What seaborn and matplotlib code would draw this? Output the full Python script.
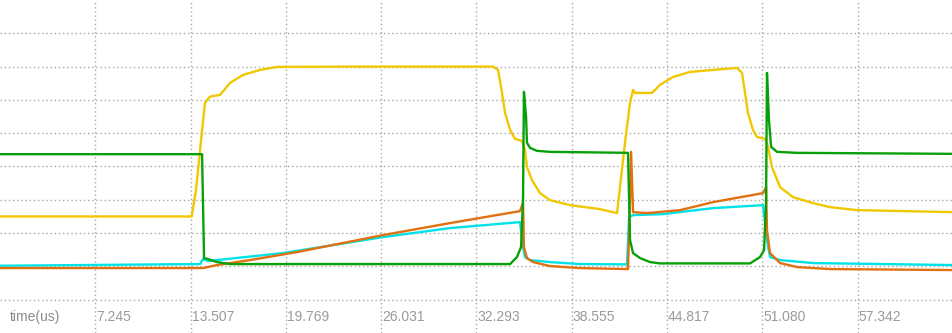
import matplotlib
matplotlib.use("Agg")
import matplotlib.pyplot as plt
import matplotlib.transforms as mtransforms
import seaborn as sns
import pandas as pd

# ---- data (time in us, amplitude in screen divisions) ----
yellow_t = [0.98, 13.58, 13.86, 14.13, 14.45, 14.78, 15.44, 16.10, 16.95, 18.07, 19.18, 23.98,
            33.38, 33.71, 33.97, 34.17, 34.50, 34.82, 35.28, 35.48, 35.61, 35.94, 36.47, 37.12,
            38.44, 40.41, 41.53, 41.72, 42.05, 42.38, 42.58, 42.71, 43.83, 44.35, 45.21, 46.32,
            47.84, 49.41, 49.74, 49.94, 50.13, 50.46, 50.72, 51.25, 51.45, 51.71, 52.24, 53.09,
            54.41, 55.52, 57.30, 63.60]
yellow_v = [3.50, 3.50, 4.29, 5.50, 6.91, 7.10, 7.15, 7.51, 7.75, 7.90, 7.99, 8.00,
            8.00, 7.90, 7.21, 6.61, 6.10, 5.83, 5.77, 5.50, 4.98, 4.59, 4.20, 3.99,
            3.84, 3.72, 3.60, 4.38, 5.71, 6.91, 7.30, 7.21, 7.21, 7.45, 7.69, 7.84,
            7.90, 7.96, 7.81, 7.21, 6.61, 6.10, 5.89, 5.83, 5.59, 4.98, 4.38, 4.08,
            3.90, 3.78, 3.69, 3.63]

green_t = [0.98, 14.26, 14.39, 14.65, 15.24, 16.10, 34.50, 34.95, 35.22, 35.35, 35.41, 35.55,
           35.61, 35.81, 36.27, 37.12, 42.25, 42.38, 42.58, 43.04, 43.69, 44.35, 50.27, 50.92,
           51.19, 51.32, 51.38, 51.51, 51.65, 52.04, 53.36, 63.60]
green_v = [5.37, 5.37, 2.25, 2.22, 2.13, 2.07, 2.07, 2.28, 2.58, 3.99, 7.24, 6.49,
           5.71, 5.56, 5.47, 5.44, 5.41, 2.79, 2.40, 2.25, 2.13, 2.09, 2.09, 2.28,
           2.49, 3.99, 7.81, 6.40, 5.59, 5.44, 5.41, 5.38]

cyan_t = [0.98, 14.13, 14.32, 14.65, 15.24, 19.58, 26.15, 30.55, 35.15, 35.35, 35.48, 35.81,
          37.12, 39.09, 42.18, 42.32, 42.58, 44.55, 47.84, 51.12, 51.38, 51.58, 52.24, 54.41,
          63.60]
cyan_v = [2.02, 2.07, 2.22, 2.16, 2.19, 2.40, 2.88, 3.15, 3.33, 2.58, 2.28, 2.19,
          2.13, 2.07, 2.06, 3.48, 3.54, 3.57, 3.75, 3.84, 2.79, 2.28, 2.19, 2.10,
          2.04]

orange_t = [0.98, 14.32, 15.24, 17.41, 20.50, 26.15, 30.55, 35.15, 35.35, 35.41, 35.61, 36.01,
            37.12, 39.09, 42.25, 42.38, 42.45, 42.58, 43.50, 45.67, 47.84, 51.12, 51.32, 51.38,
            51.58, 52.24, 53.36, 55.52, 63.60]
orange_v = [1.95, 1.95, 2.04, 2.19, 2.43, 2.94, 3.30, 3.66, 3.90, 2.58, 2.25, 2.13,
            2.01, 1.95, 1.92, 3.99, 5.44, 3.63, 3.60, 3.69, 3.93, 4.20, 4.38, 3.09,
            2.40, 2.10, 1.98, 1.92, 1.89]

tick_values = [7.245, 13.507, 19.769, 26.031, 32.293, 38.555, 44.817, 51.080, 57.342]
tick_labels = ["7.245", "13.507", "19.769", "26.031", "32.293", "38.555", "44.817", "51.080", "57.342"]
x_range = [0.983, 63.603]
grid_rows = [1, 2, 3, 4, 5, 6, 7, 8, 9]

# ---- figure ----
sns.set_style("white")
plt.rcParams['font.family'] = ['Liberation Sans', 'DejaVu Sans']

fig = plt.figure(figsize=(9.53, 3.33), dpi=100)
ax = fig.add_axes([0, 0, 1, 1])

traces = [
    (yellow_t, yellow_v, "#f0c800"),
    (cyan_t, cyan_v, "#00e2e6"),
    (orange_t, orange_v, "#e07010"),
    (green_t, green_v, "#08a008"),
]
for t, v, c in traces:
    df = pd.DataFrame({"t": t, "v": v})
    sns.lineplot(data=df, x="t", y="v", color=c, linewidth=1.7, sort=False,
                 estimator=None, ax=ax, zorder=3)

ax.set_xlim(*x_range)
ax.set_ylim(0, 10)
ax.set_xticks(tick_values)
ax.set_yticks(grid_rows)
ax.set_xticklabels([])
ax.set_yticklabels([])
ax.tick_params(length=0)
ax.grid(True, color="#a8a8a8", linestyle=(0, (1, 2)), linewidth=1.0, zorder=0)
ax.set_axisbelow(True)
for s in ax.spines.values():
    s.set_visible(False)
ax.set_xlabel("")
ax.set_ylabel("")

trans = mtransforms.blended_transform_factory(ax.transData, ax.transAxes)
for tv, tl in zip(tick_values, tick_labels):
    ax.text(tv + 0.06, 0.048, tl, transform=trans, ha="left", va="center",
            fontsize=10, color="#9a9a9a")
ax.text(10 / 953, 0.048, "time(us)", transform=ax.transAxes, ha="left", va="center",
        fontsize=10, color="#8c8c8c")

fig.savefig("out.png", dpi=100)
